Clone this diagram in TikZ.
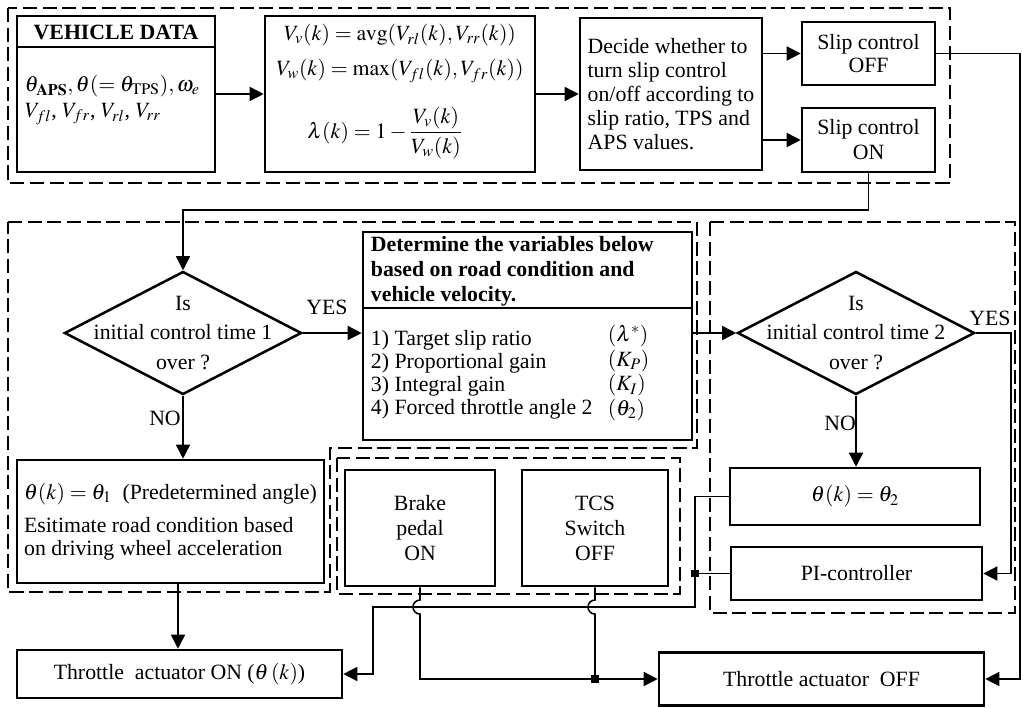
\documentclass[tikz,border=0pt]{standalone}
\usepackage{amsmath}
\usepackage{mathptmx}
\usepackage{fontspec}
\setmainfont{Liberation Serif}
\usetikzlibrary{positioning, arrows.meta, shapes.geometric, calc}

\begin{document}
\begin{tikzpicture}[x=0.025cm, y=-0.025cm, font={\fontsize{15.5}{17}\selectfont},
    box/.style={draw, line width=1.8pt, rectangle, inner sep=3pt},
    decide/.style={draw, line width=1.8pt, diamond, inner sep=0pt},
    link/.style={line width=1.1pt},
    arr/.style={link, -{Triangle[length=10pt,width=10pt]}},
    frame/.style={line width=1.1pt, dash pattern=on 10pt off 4pt},
    dot/.style={fill, rectangle, inner sep=0pt, minimum size=5.5pt}]
    \useasboundingbox (0,0) rectangle (1023,708);
    % dashed groups
    \draw[frame] (8,8) rectangle (950,183);
    \draw[frame] (8,222) -- (697,222) -- (697,448) -- (330,448) -- (330,592) -- (8,592) -- cycle;
    \draw[frame] (337,458) rectangle (680,594);
    \draw[frame] (710,222) rectangle (1015,613);
    % top row
    \node[box, minimum width=4.95cm, minimum height=3.9cm] (veh) at (116,94) {};
    \coordinate (vhd) at (0,47);
    \draw[line width=1.8pt] (veh.west |- vhd) -- (veh.east |- vhd);
    \node[font={\fontsize{15.5}{17}\selectfont\bfseries}] (vehhd) at (116,32) {VEHICLE DATA};
    \node[anchor=west] (vehin1) at (20,86) {$\theta_{\mathbf{APS}},\theta(=\theta_{\mathrm{TPS}}),\omega_e$};
    \node[anchor=west] (vehin2) at (20,114) {$V_{fl}$, $V_{fr}$, $V_{rl}$, $V_{rr}$};
    \node[box, minimum width=6.75cm, minimum height=3.9cm] (frm) at (400,94) {};
    \node (frm1) at (400,35) {$V_v(k)=\mathrm{avg}(V_{rl}(k),V_{rr}(k))$};
    \node (frm2) at (400,71) {$V_w(k)=\max(V_{fl}(k),V_{fr}(k))$};
    \node (frm3) at (385,133) {$\lambda(k)=1-\dfrac{V_v(k)}{V_w(k)}$};
    \node[box, minimum width=4.55cm, minimum height=3.8cm, align=left, font={\fontsize{15.5}{17.1}\selectfont}] (dec) at (671,94)
        {Decide whether to\\turn slip control\\on/off according to\\slip ratio, TPS and\\APS values.};
    \node[box, minimum width=3.325cm, minimum height=1.575cm, align=center, font={\fontsize{15.5}{16.4}\selectfont}] (soff) at (868.5,53.5) {Slip control\\OFF};
    \node[box, minimum width=3.325cm, minimum height=1.6cm, align=center, font={\fontsize{15.5}{17.8}\selectfont}] (son) at (868.5,140) {Slip control\\ON};
    \draw[arr] (veh.east) -- (frm.west);
    \draw[arr] (frm.east) -- (dec.west);
    \draw[arr] (dec.east |- soff.west) -- (soff.west);
    \draw[arr] (dec.east |- son.west) -- (son.west);
    % middle row
    \node[decide, minimum width=5.925cm, minimum height=3.075cm] (dia1) at (183,333) {};
    \node[align=center, font={\fontsize{15.5}{21}\selectfont}] (dia1txt) at (dia1) {Is\\initial control time 1\\over ?};
    \node[box, minimum width=8.225cm, minimum height=5.2cm] (det) at (527.5,336) {};
    \coordinate (dhd) at (0,308);
    \draw[line width=1.8pt] (det.west |- dhd) -- (det.east |- dhd);
    \node[anchor=west, align=left, font={\fontsize{15.5}{17.8}\selectfont\bfseries}] (dethd) at (366,271)
        {Determine the variables below\\based on road condition and\\vehicle velocity.};
    \node[anchor=west, align=left, font={\fontsize{15.5}{16.4}\selectfont}] (detls) at (366,375)
        {1) Target slip ratio\\2) Proportional gain\\3) Integral gain\\4) Forced throttle angle 2};
    \node[anchor=west, align=left, font={\fontsize{15.5}{17.5}\selectfont}] (detsym) at (603,373)
        {$(\lambda^*)$\\$(K_P)$\\$(K_I)$\\$(\theta_2)$};
    \node[decide, minimum width=5.925cm, minimum height=3.075cm] (dia2) at (856,333) {};
    \node[align=center, font={\fontsize{15.5}{21}\selectfont}] (dia2txt) at (dia2) {Is\\initial control time 2\\over ?};
    \node (yes1) at (327,307) {YES};
    \node (yes2) at (990,318) {YES};
    \node (no1) at (165,418) {NO};
    \node (no2) at (840,423) {NO};
    \coordinate (lp) at (0,210);
    \draw[arr] (son.south) -- (son.south |- lp) -| (dia1.north);
    \draw[arr] (dia1.east) -- (det.west |- dia1.east);
    \draw[arr] (det.east |- dia2.west) -- (dia2.west);
    % lower row
    \node[box, minimum width=7.675cm, minimum height=3.075cm, align=left, font={\fontsize{15.5}{15.8}\selectfont}] (th1) at (170.5,521.5)
        {$\theta(k)=\theta_1$\enspace(Predetermined angle)\\[8pt]Esitimate road condition based\\on driving wheel acceleration};
    \node[box, minimum width=3.75cm, minimum height=2.9cm, align=center, font={\fontsize{15.5}{17.8}\selectfont}] (brk) at (420,528) {Brake\\pedal\\ON};
    \node[box, minimum width=3.65cm, minimum height=2.9cm, align=center, font={\fontsize{15.5}{17.8}\selectfont}] (tcs) at (595,528) {TCS\\Switch\\OFF};
    \node[box, minimum width=6.25cm, minimum height=1.425cm] (th2) at (855,496.5) {$\theta(k)=\theta_2$};
    \node[box, minimum width=6.275cm, minimum height=1.325cm] (pic) at (856.5,573.5) {PI-controller};
    \node[box, minimum width=8.125cm, minimum height=1.2cm] (thon) at (179.5,674) {Throttle\ \ actuator ON ($\theta\,(k)$)};
    \node[box, minimum width=8.125cm, minimum height=1.325cm] (thoff) at (821.5,679) {Throttle actuator\ \ OFF};
    \draw[arr] (dia1.south) -- (dia1.south |- th1.north);
    \draw[arr] (dia2.south) -- (dia2.south |- th2.north);
    \coordinate (ry) at (1011,0);
    \draw[arr] (dia2.east) -- (dia2.east -| ry) |- (pic.east);
    \coordinate (dn) at (178,0);
    \draw[arr] (th1.south -| dn) -- (thon.north -| dn);
    \coordinate (rt) at (1020,0);
    \draw[arr] (soff.east) -- (soff.east -| rt) |- (thoff.east);
    % joins and bridges
    \node[dot] (jn) at (695,573.5) {};
    \coordinate (jb) at (373,607);
    \draw[arr] (th2.west) -| (jb -| jn) -- (jb) |- (thon.east);
    \draw[link] (pic.west) -- (jn);
    \node[dot] (jt) at (tcs.south |- thoff.west) {};
    \draw[arr] (brk.south) -- ($(brk.south |- jb)+(0,-7)$) arc[start angle=90, end angle=270, radius=5pt] |- (thoff.west);
    \draw[link] (tcs.south) -- ($(tcs.south |- jb)+(0,-7)$) arc[start angle=90, end angle=270, radius=5pt] -- (jt);
\end{tikzpicture}
\end{document}
